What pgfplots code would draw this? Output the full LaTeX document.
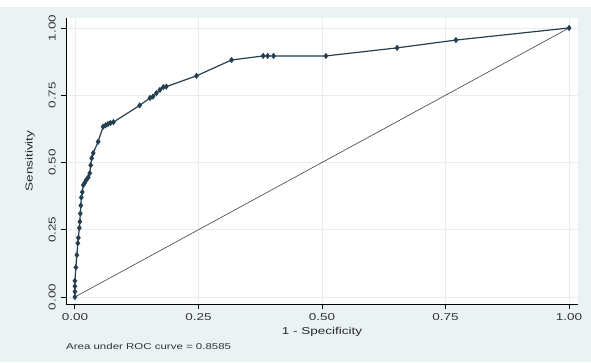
\documentclass[border=0pt]{standalone}
\usepackage{pgfplots}
\pgfplotsset{compat=1.18}
\usepackage{fontspec}
\setmainfont{Liberation Sans}[FakeStretch=1.35]
\definecolor{statabg}{HTML}{EAF2F3}
\definecolor{rocline}{HTML}{253F52}
\definecolor{gridc}{HTML}{E6EEF0}
\begin{document}
\begin{tikzpicture}
\path[use as bounding box] (0,0) rectangle (591pt,362pt);
\fill[statabg] (0,0) rectangle (591pt,355pt);
\begin{axis}[
  at={(66pt,58pt)}, anchor=south west,
  scale only axis, width=512pt, height=286pt,
  xmin=-0.018, xmax=1.018, ymin=-0.026, ymax=1.037,
  axis background/.style={fill=white},
  axis x line*=bottom, axis y line*=left,
  axis line style={-, line width=0.9pt, black},
  tick align=outside, major tick length=5pt,
  tick style={black, line width=0.8pt},
  xtick={0,0.25,0.5,0.75,1}, ytick={0,0.25,0.5,0.75,1},
  xticklabels={0.00,0.25,0.50,0.75,1.00},
  yticklabels={0.00,0.25,0.50,0.75,1.00},
  ticklabel style={font=\fontsize{10}{12}\selectfont, text=black!80},
  xticklabel style={yshift=-1pt},
  yticklabel style={rotate=90, anchor=south, inner ysep=5pt},
  grid=major, major grid style={gridc, line width=0.7pt},
  xlabel={1 - Specificity}, ylabel={Sensitivity},
  label style={font=\fontsize{10}{12}\selectfont, text=black!85},
  xlabel style={at={(axis description cs:0.5,-0.098)}, anchor=center},
  ylabel style={at={(axis description cs:-0.07,0.5)}, anchor=center},
  clip=false,
]
\addplot[black!75, line width=0.6pt] coordinates {(0,0) (1,1)};
\addplot[rocline, line width=1.2pt, mark=diamond*, mark size=2.2pt, mark options={fill=rocline, draw=rocline}] coordinates {
(0,0) (0,0.02) (0,0.04) (0,0.06) (0.002,0.11) (0.004,0.156) (0.006,0.2) (0.007,0.22)
(0.009,0.257) (0.01,0.28) (0.011,0.31) (0.012,0.34) (0.013,0.37) (0.015,0.39)
(0.017,0.416) (0.02,0.425) (0.023,0.435) (0.027,0.445) (0.03,0.46) (0.032,0.49)
(0.034,0.516) (0.037,0.535) (0.047,0.577) (0.057,0.633) (0.062,0.638) (0.067,0.643)
(0.072,0.647) (0.078,0.65) (0.131,0.712) (0.152,0.74) (0.158,0.745) (0.165,0.758)
(0.172,0.77) (0.179,0.78) (0.185,0.782) (0.246,0.822) (0.317,0.881) (0.381,0.896)
(0.39,0.896) (0.402,0.896) (0.508,0.896) (0.652,0.926) (0.771,0.955) (1,1)
};
\node[anchor=west, inner sep=0pt, font=\fontsize{8.5}{10}\selectfont, text=black!80] at (axis description cs:0,-0.147) {Area under ROC curve = 0.8585};
\end{axis}
\end{tikzpicture}
\end{document}
